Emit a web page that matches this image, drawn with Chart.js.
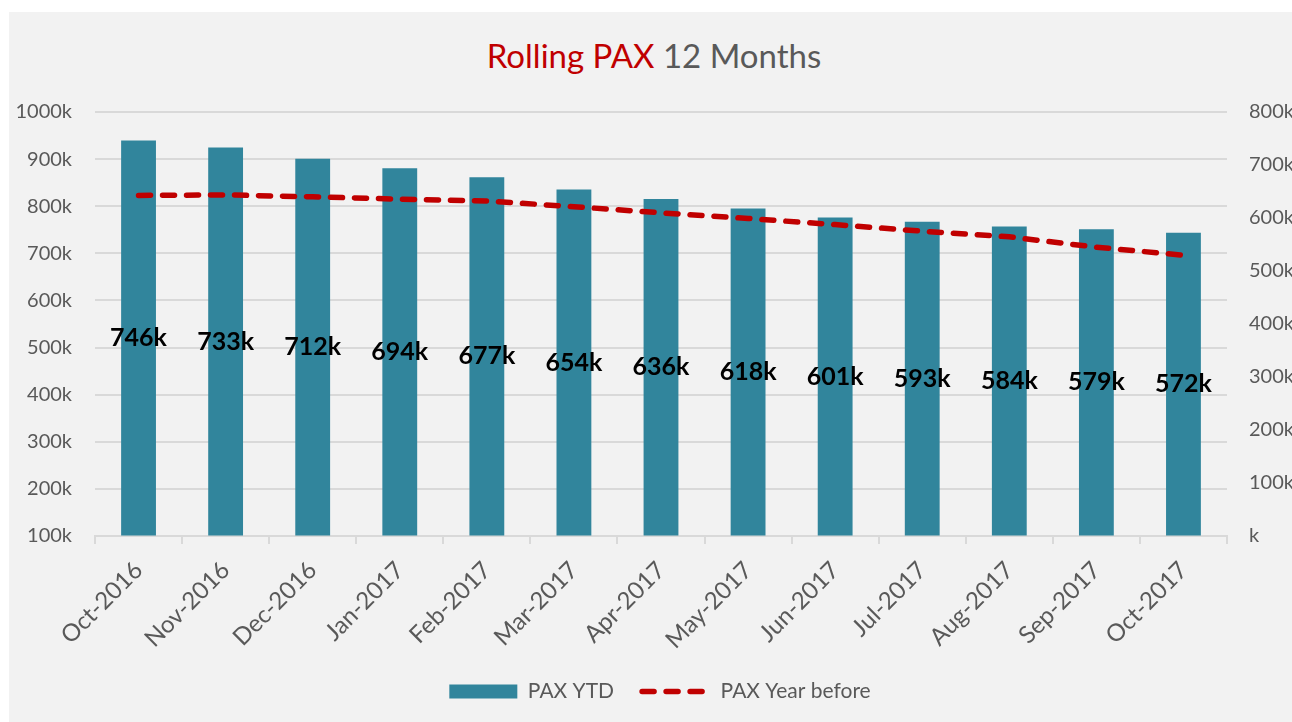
<!DOCTYPE html>
<html>
<head>
<meta charset="utf-8">
<script src="https://cdn.jsdelivr.net/npm/chart.js@4.4.1/dist/chart.umd.min.js"></script>
<style>
  html, body { margin: 0; padding: 0; background: #ffffff; overflow: hidden; }
  #frame {
    position: absolute; left: 9px; top: 12px;
    width: 1283px; height: 710px;
    background: #f2f2f2; overflow: hidden;
  }
  #title {
    position: absolute; left: 0; width: 1290px; top: 25px;
    text-align: center; font-family: Lato, "Open Sans", sans-serif;
    font-size: 33px; line-height: 36px; color: #595959;
  }
  #title .red { color: #c00000; }
  #chart { position: absolute; left: 0; top: 0; }
</style>
</head>
<body>
<div id="frame">
  <div id="title"><span class="red">Rolling PAX</span> 12 Months</div>
  <canvas id="chart" width="1302" height="710"></canvas>
</div>
<script>
// values in thousands
const months = ['Oct-2016', 'Nov-2016', 'Dec-2016', 'Jan-2017', 'Feb-2017', 'Mar-2017', 'Apr-2017',
                'May-2017', 'Jun-2017', 'Jul-2017', 'Aug-2017', 'Sep-2017', 'Oct-2017'];
const paxYtd = [746, 733, 712, 694, 677, 654, 636, 618, 601, 593, 584, 579, 572];
const paxYearBefore = [823, 824, 820, 815, 811, 799, 786, 774, 761, 747, 735, 713, 696];

const GREY_TEXT = '#595959';
const GRID = '#d9d9d9';
const FONT = 'Lato, "Open Sans", sans-serif';
const DASH = [12, 12];

// value labels in the middle of each bar
const barLabels = {
    id: 'barLabels',
    afterDatasetsDraw(chart) {
        const ctx = chart.ctx;
        const meta = chart.getDatasetMeta(0);
        ctx.save();
        ctx.font = 'bold 25px ' + FONT;
        ctx.fillStyle = '#000000';
        ctx.textAlign = 'center';
        ctx.textBaseline = 'middle';
        meta.data.forEach((bar, i) => {
            ctx.fillText(paxYtd[i] + 'k', bar.x, (bar.y + bar.base) / 2);
        });
        ctx.restore();
    }
};

const ctx = document.getElementById('chart');
new Chart(ctx, {
    type: 'bar',
    data: {
        labels: months,
        datasets: [
            {
                label: 'PAX YTD',
                data: paxYtd,
                yAxisID: 'y2',
                backgroundColor: '#31859c',
                borderWidth: 0,
                barPercentage: 0.8,
                categoryPercentage: 0.5,
                pointStyle: 'rect',
                order: 2
            },
            {
                type: 'line',
                label: 'PAX Year before',
                data: paxYearBefore,
                yAxisID: 'y',
                borderColor: '#c00000',
                backgroundColor: '#c00000',
                borderWidth: 5.5,
                borderDash: DASH,
                borderCapStyle: 'round',
                pointRadius: 0,
                pointStyle: 'line',
                fill: false,
                tension: 0,
                order: 1
            }
        ]
    },
    plugins: [barLabels],
    options: {
        responsive: false,
        animation: false,
        devicePixelRatio: 1,
        layout: { padding: { top: 100, left: 0, right: 0, bottom: 10 } },
        plugins: {
            tooltip: { enabled: false },
            title: { display: false },
            legend: {
                position: 'bottom',
                labels: {
                    usePointStyle: true,
                    pointStyleWidth: 68,
                    boxHeight: 14,
                    padding: 28,
                    color: GREY_TEXT,
                    font: { family: FONT, size: 21 },
                    sort: (a, b) => a.datasetIndex - b.datasetIndex,
                    generateLabels(chart) {
                        const items = Chart.defaults.plugins.legend.labels.generateLabels(chart);
                        items.forEach(it => {
                            if (it.datasetIndex === 1) {
                                it.lineDash = DASH;
                                it.lineCap = 'round';
                                it.lineWidth = 5.5;
                            }
                        });
                        return items;
                    }
                }
            }
        },
        scales: {
            x: {
                grid: {
                    drawOnChartArea: false,
                    drawTicks: true,
                    tickLength: 8,
                    color: GRID,
                    lineWidth: 2,
                    offset: true
                },
                border: { color: GRID, width: 2 },
                ticks: {
                    color: GREY_TEXT,
                    font: { family: FONT, size: 24 },
                    minRotation: 45,
                    maxRotation: 45,
                    padding: 12,
                    autoSkip: false
                },
                afterFit: (axis) => { axis.height = 117; }
            },
            y: {
                position: 'left',
                min: 100,
                max: 1000,
                ticks: {
                    stepSize: 100,
                    color: GREY_TEXT,
                    padding: 23,
                    font: { family: FONT, size: 20 },
                    callback: (v) => v + 'k'
                },
                grid: { color: GRID, lineWidth: 2, drawTicks: false },
                border: { display: false },
                afterFit: (axis) => { axis.width = 86; }
            },
            y2: {
                position: 'right',
                min: 0,
                max: 800,
                ticks: {
                    stepSize: 100,
                    color: GREY_TEXT,
                    padding: 22,
                    font: { family: FONT, size: 20 },
                    callback: (v) => (v === 0 ? '' : v) + 'k'
                },
                grid: { drawOnChartArea: false, drawTicks: false },
                border: { display: false },
                afterFit: (axis) => { axis.width = 84; }
            }
        }
    }
});
</script>
</body>
</html>
